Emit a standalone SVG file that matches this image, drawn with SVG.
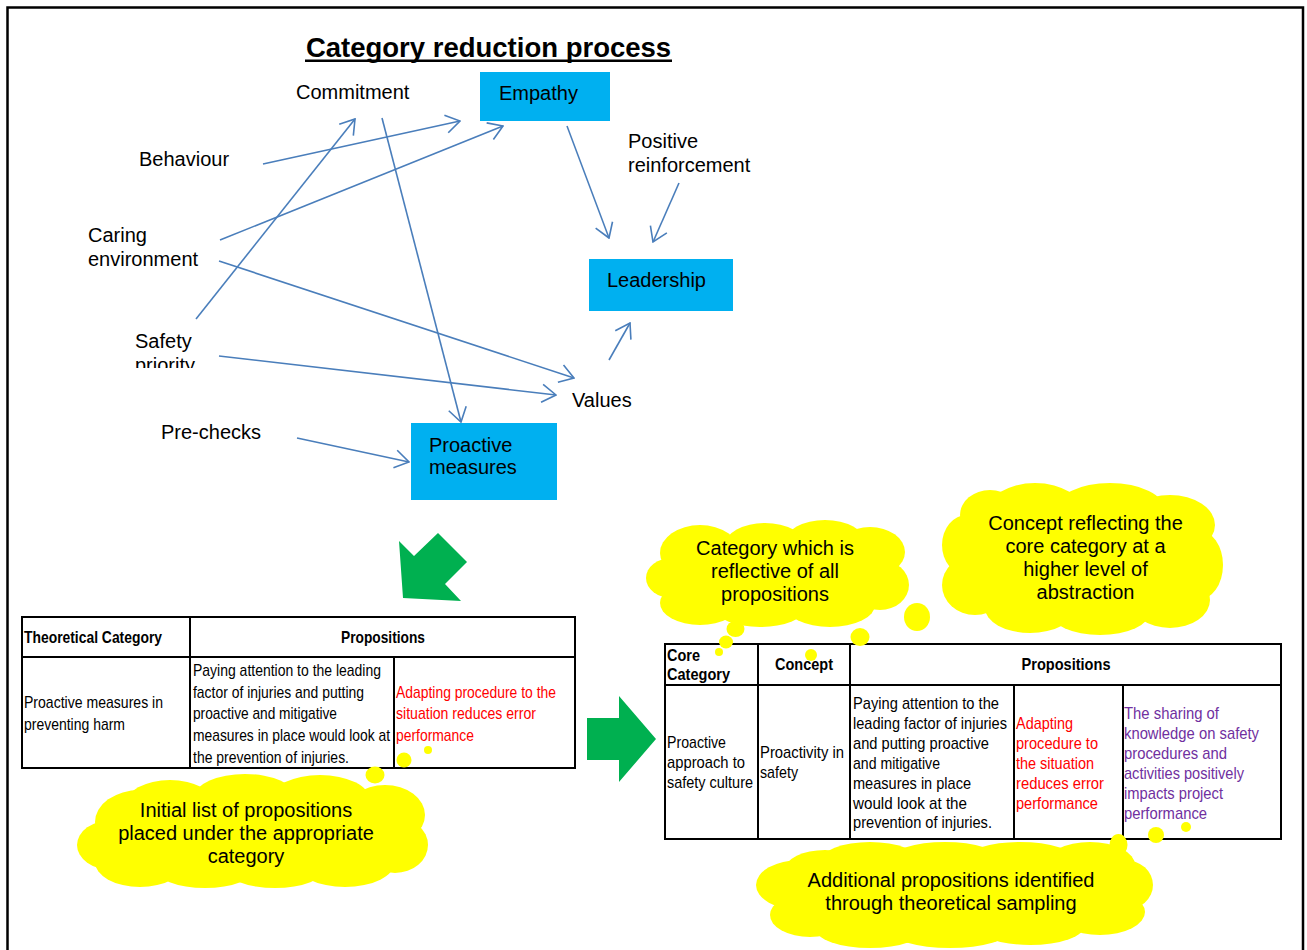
<svg xmlns="http://www.w3.org/2000/svg" width="1307" height="950" viewBox="0 0 1307 950">
  <style>
    .lbl { font-family: "Liberation Sans", Arial, sans-serif; font-size: 20px; fill: #000; }
    .box { fill: #00B0F0; }
    .conn { stroke: #4A7EBB; stroke-width: 1.6; fill: none; marker-end: url(#vhead); }
    .cloud { fill: #FFFF00; }
    .ctext { font-family: "Liberation Sans", Arial, sans-serif; font-size: 20px; fill: #000; text-anchor: middle; }
    .grid { stroke: #000; stroke-width: 2; fill: none; }
    .th { font-family: "Liberation Sans Narrow", "Liberation Sans", Arial, sans-serif; font-size: 17px; font-weight: bold; fill: #000; }
    .td { font-family: "Liberation Sans Narrow", "Liberation Sans", Arial, sans-serif; font-size: 17px; fill: #000; }
    .red { fill: #FF0000; }
    .purple { fill: #7030A0; }
    .green { fill: #00B050; }
  </style>
  <defs>
    <marker id="vhead" viewBox="0 0 16 20" refX="15" refY="10" markerWidth="16" markerHeight="20" markerUnits="userSpaceOnUse" orient="auto">
      <path d="M1,1 L15,10 L1,19" fill="none" stroke="#4A7EBB" stroke-width="1.6"/>
    </marker>
    <clipPath id="cutSafety">
      <rect x="0" y="0" width="400" height="368"/>
    </clipPath>
  </defs>

  <rect x="0" y="0" width="1307" height="950" fill="#fff"/>

  <!-- page frame, open at the bottom -->
  <path d="M7.5,955 V7.5 H1303 V955" fill="none" stroke="#000" stroke-width="2.5"/>

  <!-- title -->
  <g id="title">
    <text x="488.5" y="57" text-anchor="middle" font-family="Liberation Sans, Arial, sans-serif" font-size="27.5" font-weight="bold">Category reduction process</text>
    <rect x="305" y="59.5" width="367" height="2.5" fill="#000"/>
  </g>

  <!-- connectors -->
  <g id="connectors">
    <line class="conn" x1="263" y1="164" x2="460" y2="121"/>
    <line class="conn" x1="220" y1="240" x2="503" y2="126"/>
    <line class="conn" x1="196" y1="319" x2="355" y2="119"/>
    <line class="conn" x1="382" y1="118" x2="461" y2="422"/>
    <line class="conn" x1="567" y1="126" x2="609" y2="238"/>
    <line class="conn" x1="679" y1="183" x2="653" y2="242"/>
    <line class="conn" x1="609" y1="360" x2="630" y2="323"/>
    <line class="conn" x1="219" y1="261" x2="574" y2="378"/>
    <line class="conn" x1="219" y1="356" x2="556" y2="395"/>
    <line class="conn" x1="297" y1="438" x2="409" y2="462"/>
  </g>

  <!-- concept labels -->
  <g id="commitment"><text class="lbl" x="296" y="99">Commitment</text></g>
  <g id="behaviour"><text class="lbl" x="139" y="166">Behaviour</text></g>
  <g id="caring-environment">
    <text class="lbl" x="88" y="242">Caring</text>
    <text class="lbl" x="88" y="266">environment</text>
  </g>
  <g id="safety-priority">
    <text class="lbl" x="135" y="348">Safety</text>
    <text class="lbl" x="135" y="372" clip-path="url(#cutSafety)">priority</text>
  </g>
  <g id="pre-checks"><text class="lbl" x="161" y="439">Pre-checks</text></g>
  <g id="positive-reinforcement">
    <text class="lbl" x="628" y="148">Positive</text>
    <text class="lbl" x="628" y="172">reinforcement</text>
  </g>
  <g id="values"><text class="lbl" x="572" y="407">Values</text></g>

  <!-- category boxes -->
  <g id="empathy">
    <rect class="box" x="480" y="72" width="130" height="49"/>
    <text class="lbl" x="499" y="100">Empathy</text>
  </g>
  <g id="leadership">
    <rect class="box" x="589" y="259" width="144" height="52"/>
    <text class="lbl" x="607" y="287">Leadership</text>
  </g>
  <g id="proactive-measures">
    <rect class="box" x="411" y="423" width="146" height="77"/>
    <text class="lbl" x="429" y="452">Proactive</text>
    <text class="lbl" x="429" y="474">measures</text>
  </g>

  <!-- block arrows -->
  <g id="arrow-down">
    <polygon class="green" points="399,541 414,556 438,533 467,562 445,584 461,601 403,598"/>
  </g>
  <g id="arrow-right">
    <polygon class="green" points="587,718 619,718 619,696 656,739 619,782 619,760 587,760"/>
  </g>

  <!-- table: theoretical category -->
  <g id="table-theoretical">
    <rect class="grid" x="22" y="617" width="553" height="151"/>
    <line class="grid" x1="22" y1="657" x2="575" y2="657"/>
    <line class="grid" x1="190" y1="617" x2="190" y2="768"/>
    <line class="grid" x1="394" y1="657" x2="394" y2="768"/>
    <text class="th" x="24" y="643" textLength="138" lengthAdjust="spacingAndGlyphs">Theoretical Category</text>
    <text class="th" x="383" y="643" text-anchor="middle" textLength="84" lengthAdjust="spacingAndGlyphs">Propositions</text>
    <text class="td" x="24" y="708" textLength="139" lengthAdjust="spacingAndGlyphs">Proactive measures in</text>
    <text class="td" x="24" y="730" textLength="101" lengthAdjust="spacingAndGlyphs">preventing harm</text>
    <text class="td" x="193" y="676" textLength="188" lengthAdjust="spacingAndGlyphs">Paying attention to the leading</text>
    <text class="td" x="193" y="698" textLength="171" lengthAdjust="spacingAndGlyphs">factor of injuries and putting</text>
    <text class="td" x="193" y="719" textLength="144" lengthAdjust="spacingAndGlyphs">proactive and mitigative</text>
    <text class="td" x="193" y="741" textLength="197" lengthAdjust="spacingAndGlyphs">measures in place would look at</text>
    <text class="td" x="193" y="763" textLength="156" lengthAdjust="spacingAndGlyphs">the prevention of injuries.</text>
    <text class="td red" x="396" y="698" textLength="160" lengthAdjust="spacingAndGlyphs">Adapting procedure to the</text>
    <text class="td red" x="396" y="719" textLength="140" lengthAdjust="spacingAndGlyphs">situation reduces error</text>
    <text class="td red" x="396" y="741" textLength="78" lengthAdjust="spacingAndGlyphs">performance</text>
  </g>

  <!-- table: core category -->
  <g id="table-core">
    <rect class="grid" x="665" y="644" width="616" height="195"/>
    <line class="grid" x1="665" y1="685" x2="1281" y2="685"/>
    <line class="grid" x1="758" y1="644" x2="758" y2="839"/>
    <line class="grid" x1="850" y1="644" x2="850" y2="839"/>
    <line class="grid" x1="1014" y1="685" x2="1014" y2="839"/>
    <line class="grid" x1="1123" y1="685" x2="1123" y2="839"/>
    <text class="th" x="667" y="661" textLength="33" lengthAdjust="spacingAndGlyphs">Core</text>
    <text class="th" x="667" y="680" textLength="63" lengthAdjust="spacingAndGlyphs">Category</text>
    <text class="th" x="804" y="670" text-anchor="middle" textLength="58" lengthAdjust="spacingAndGlyphs">Concept</text>
    <text class="th" x="1066" y="670" text-anchor="middle" textLength="89" lengthAdjust="spacingAndGlyphs">Propositions</text>
    <text class="td" x="667" y="748" textLength="59" lengthAdjust="spacingAndGlyphs">Proactive</text>
    <text class="td" x="667" y="768" textLength="78" lengthAdjust="spacingAndGlyphs">approach to</text>
    <text class="td" x="667" y="788" textLength="86" lengthAdjust="spacingAndGlyphs">safety culture</text>
    <text class="td" x="760" y="758" textLength="84" lengthAdjust="spacingAndGlyphs">Proactivity in</text>
    <text class="td" x="760" y="778" textLength="38" lengthAdjust="spacingAndGlyphs">safety</text>
    <text class="td" x="853" y="709" textLength="146" lengthAdjust="spacingAndGlyphs">Paying attention to the</text>
    <text class="td" x="853" y="729" textLength="154" lengthAdjust="spacingAndGlyphs">leading factor of injuries</text>
    <text class="td" x="853" y="749" textLength="136" lengthAdjust="spacingAndGlyphs">and putting proactive</text>
    <text class="td" x="853" y="769" textLength="87" lengthAdjust="spacingAndGlyphs">and mitigative</text>
    <text class="td" x="853" y="789" textLength="118" lengthAdjust="spacingAndGlyphs">measures in place</text>
    <text class="td" x="853" y="809" textLength="114" lengthAdjust="spacingAndGlyphs">would look at the</text>
    <text class="td" x="853" y="828" textLength="139" lengthAdjust="spacingAndGlyphs">prevention of injuries.</text>
    <text class="td red" x="1016" y="729" textLength="57" lengthAdjust="spacingAndGlyphs">Adapting</text>
    <text class="td red" x="1016" y="749" textLength="82" lengthAdjust="spacingAndGlyphs">procedure to</text>
    <text class="td red" x="1016" y="769" textLength="78" lengthAdjust="spacingAndGlyphs">the situation</text>
    <text class="td red" x="1016" y="789" textLength="88" lengthAdjust="spacingAndGlyphs">reduces error</text>
    <text class="td red" x="1016" y="809" textLength="82" lengthAdjust="spacingAndGlyphs">performance</text>
    <text class="td purple" x="1124" y="719" textLength="95" lengthAdjust="spacingAndGlyphs">The sharing of</text>
    <text class="td purple" x="1124" y="739" textLength="135" lengthAdjust="spacingAndGlyphs">knowledge on safety</text>
    <text class="td purple" x="1124" y="759" textLength="103" lengthAdjust="spacingAndGlyphs">procedures and</text>
    <text class="td purple" x="1124" y="779" textLength="120" lengthAdjust="spacingAndGlyphs">activities positively</text>
    <text class="td purple" x="1124" y="799" textLength="99" lengthAdjust="spacingAndGlyphs">impacts project</text>
    <text class="td purple" x="1124" y="819" textLength="83" lengthAdjust="spacingAndGlyphs">performance</text>
  </g>

  <!-- thought clouds -->
  <g id="cloud-initial">
    <ellipse class="cloud" cx="253" cy="832" rx="150" ry="45"/>
    <ellipse class="cloud" cx="140" cy="822" rx="45" ry="32"/>
    <ellipse class="cloud" cx="112" cy="845" rx="35" ry="25"/>
    <ellipse class="cloud" cx="140" cy="862" rx="45" ry="25"/>
    <ellipse class="cloud" cx="205" cy="868" rx="50" ry="20"/>
    <ellipse class="cloud" cx="275" cy="868" rx="50" ry="20"/>
    <ellipse class="cloud" cx="345" cy="862" rx="50" ry="25"/>
    <ellipse class="cloud" cx="395" cy="845" rx="33" ry="28"/>
    <ellipse class="cloud" cx="385" cy="815" rx="40" ry="30"/>
    <ellipse class="cloud" cx="320" cy="800" rx="50" ry="25"/>
    <ellipse class="cloud" cx="245" cy="796" rx="50" ry="22"/>
    <ellipse class="cloud" cx="170" cy="805" rx="45" ry="25"/>
    <ellipse class="cloud" cx="375" cy="775" rx="9.5" ry="8.5"/>
    <ellipse class="cloud" cx="404" cy="760" rx="7.5" ry="7.5"/>
    <circle class="cloud" cx="428" cy="750" r="4"/>
    <text class="ctext" x="246" y="817">Initial list of propositions</text>
    <text class="ctext" x="246" y="840">placed under the appropriate</text>
    <text class="ctext" x="246" y="863">category</text>
  </g>

  <g id="cloud-core">
    <ellipse class="cloud" cx="777" cy="575" rx="110" ry="40"/>
    <ellipse class="cloud" cx="700" cy="553" rx="40" ry="28"/>
    <ellipse class="cloud" cx="672" cy="578" rx="26" ry="20"/>
    <ellipse class="cloud" cx="700" cy="603" rx="40" ry="22"/>
    <ellipse class="cloud" cx="760" cy="608" rx="45" ry="19"/>
    <ellipse class="cloud" cx="830" cy="605" rx="45" ry="22"/>
    <ellipse class="cloud" cx="880" cy="585" rx="29" ry="25"/>
    <ellipse class="cloud" cx="870" cy="552" rx="35" ry="25"/>
    <ellipse class="cloud" cx="825" cy="542" rx="40" ry="22"/>
    <ellipse class="cloud" cx="765" cy="545" rx="40" ry="22"/>
    <ellipse class="cloud" cx="735.5" cy="629" rx="9" ry="8"/>
    <ellipse class="cloud" cx="726" cy="642" rx="7" ry="6.5"/>
    <circle class="cloud" cx="719" cy="652" r="4"/>
    <text class="ctext" x="775" y="555">Category which is</text>
    <text class="ctext" x="775" y="578">reflective of all</text>
    <text class="ctext" x="775" y="601">propositions</text>
  </g>

  <g id="cloud-concept">
    <ellipse class="cloud" cx="1082" cy="560" rx="120" ry="60"/>
    <ellipse class="cloud" cx="1035" cy="515" rx="50" ry="32"/>
    <ellipse class="cloud" cx="1110" cy="510" rx="55" ry="27"/>
    <ellipse class="cloud" cx="1170" cy="525" rx="45" ry="30"/>
    <ellipse class="cloud" cx="1198" cy="565" rx="25" ry="35"/>
    <ellipse class="cloud" cx="1170" cy="600" rx="40" ry="28"/>
    <ellipse class="cloud" cx="1100" cy="612" rx="50" ry="23"/>
    <ellipse class="cloud" cx="1030" cy="608" rx="45" ry="25"/>
    <ellipse class="cloud" cx="975" cy="585" rx="33" ry="30"/>
    <ellipse class="cloud" cx="967" cy="545" rx="25" ry="30"/>
    <ellipse class="cloud" cx="990" cy="515" rx="30" ry="25"/>
    <ellipse class="cloud" cx="917" cy="617" rx="13" ry="14"/>
    <ellipse class="cloud" cx="860" cy="637" rx="9.5" ry="9"/>
    <circle class="cloud" cx="811" cy="655" r="6"/>
    <text class="ctext" x="1085.5" y="530">Concept reflecting the</text>
    <text class="ctext" x="1085.5" y="553">core category at a</text>
    <text class="ctext" x="1085.5" y="576">higher level of</text>
    <text class="ctext" x="1085.5" y="599">abstraction</text>
  </g>

  <g id="cloud-additional">
    <ellipse class="cloud" cx="955" cy="895" rx="170" ry="40"/>
    <ellipse class="cloud" cx="800" cy="885" rx="44" ry="25"/>
    <ellipse class="cloud" cx="810" cy="915" rx="40" ry="22"/>
    <ellipse class="cloud" cx="870" cy="928" rx="55" ry="20"/>
    <ellipse class="cloud" cx="950" cy="930" rx="60" ry="18"/>
    <ellipse class="cloud" cx="1030" cy="925" rx="55" ry="20"/>
    <ellipse class="cloud" cx="1100" cy="912" rx="45" ry="23"/>
    <ellipse class="cloud" cx="1125" cy="885" rx="28" ry="25"/>
    <ellipse class="cloud" cx="1090" cy="865" rx="45" ry="23"/>
    <ellipse class="cloud" cx="1020" cy="860" rx="55" ry="18"/>
    <ellipse class="cloud" cx="945" cy="860" rx="55" ry="18"/>
    <ellipse class="cloud" cx="870" cy="862" rx="50" ry="20"/>
    <ellipse class="cloud" cx="825" cy="870" rx="40" ry="20"/>
    <ellipse class="cloud" cx="1118.5" cy="845" rx="9" ry="11"/>
    <ellipse class="cloud" cx="1156" cy="835" rx="8" ry="8"/>
    <circle class="cloud" cx="1186" cy="827" r="5"/>
    <text class="ctext" x="951" y="887">Additional propositions identified</text>
    <text class="ctext" x="951" y="910">through theoretical sampling</text>
  </g>
</svg>
